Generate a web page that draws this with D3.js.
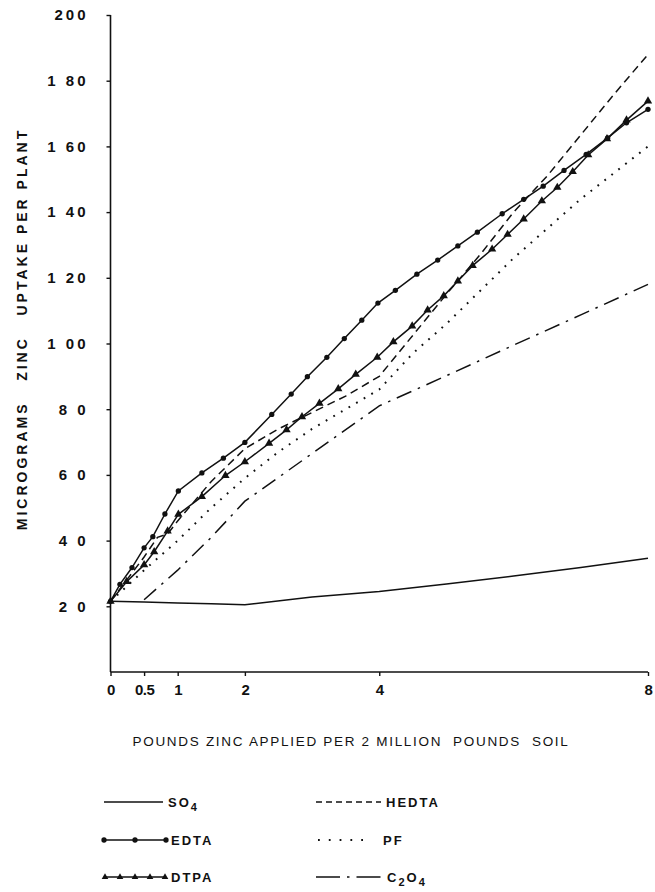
<!DOCTYPE html>
<html>
<head>
<meta charset="utf-8">
<script src="https://cdn.jsdelivr.net/npm/d3@7"></script>
<style>
  body { margin: 0; background: #fff; }
  svg { display: block; font-family: 'Liberation Sans', Arial, sans-serif; }
</style>
</head>
<body>
<svg id="chart" width="655" height="892"></svg>
<script>
// values: [pounds Zn applied, micrograms Zn per plant]
const so4 = [[0, 21.5], [0.5, 21.3], [1, 21], [1.5, 20.8], [2, 20.5], [3, 22.8], [4, 24.5], [5, 26.8], [6, 29.2], [7, 31.8], [8, 34.6]]
const edta = [[0, 21.5], [0.14, 26.7], [0.32, 31.8], [0.5, 37.8], [0.63, 41.2], [0.81, 48.1], [1.01, 55.1], [1.36, 60.6], [1.68, 65.1], [2, 69.9],
  [2.4, 78.4], [2.69, 84.6], [2.93, 89.9], [3.22, 95.8], [3.48, 101.5], [3.74, 107.1], [3.98, 112.3], [4.24, 116.2], [4.56, 121.1], [4.87, 125.4],
  [5.17, 129.7], [5.46, 133.9], [5.83, 139.5], [6.15, 143.9], [6.44, 147.9], [6.75, 152.7], [7.08, 157.6], [7.4, 162.6], [7.68, 167.2], [8, 171.3]]
const dtpa = [[0, 21.5], [0.24, 27.5], [0.5, 32.6], [0.65, 36.6], [0.85, 42.9], [1.01, 48], [1.36, 53.4], [1.71, 59.8], [2, 64], [2.36, 69.6],
  [2.62, 73.7], [2.85, 77.7], [3.11, 81.8], [3.39, 86.2], [3.65, 90.6], [3.97, 95.8], [4.21, 100.5], [4.49, 105.3], [4.72, 110.2], [4.96, 114.5],
  [5.17, 119], [5.39, 123.7], [5.68, 128.7], [5.91, 133.2], [6.15, 137.9], [6.42, 143.4], [6.65, 147.5], [6.88, 152.3], [7.11, 157.4], [7.39, 162.3],
  [7.68, 168], [8, 173.8]]
const hedta = [[0, 21.5], [0.5, 35], [0.7, 41], [0.85, 42], [1, 46], [1.5, 58], [2, 68], [2.5, 74], [3, 79], [3.5, 84], [4, 90], [4.4, 100],
  [5, 115], [5.5, 127], [6, 140], [6.5, 151], [7, 163.5], [7.5, 176], [8, 188]]
const pf = [[0, 21.5], [0.5, 31], [1, 40], [1.5, 50], [2, 59], [2.5, 67], [3, 74], [3.5, 80], [4, 86], [4.5, 97], [5, 106], [5.5, 116],
  [6, 126], [6.5, 135], [7, 144], [7.5, 152], [8, 160]]
const c2o4 = [[0.5, 22], [1, 31], [1.5, 41], [2, 52], [3, 66.5], [4, 81], [5, 90.2], [6, 99.5], [7, 108.7], [8, 118]]

const xTicks = [0, 0.5, 1, 2, 4, 8]
const xTickLabels = ['0', '0.5', '1', '2', '4', '8']
const yTicks = [20, 40, 60, 80, 100, 120, 140, 160, 180, 200]
const yTickLabels = ['2 0', '4 0', '6 0', '8 0', '1 00', '1 20', '1 40', '1 60', '1 80', '200']

const svg = d3.select('#chart')

const x = d3.scaleLinear().domain([0, 8]).range([110.5, 648])
const y = d3.scaleLinear().domain([0, 200]).range([672, 15])

// axes
const xAxis = d3.axisBottom(x).tickValues(xTicks).tickSize(4).tickPadding(8)
  .tickFormat((d, i) => xTickLabels[i])
const yAxis = d3.axisLeft(y).tickValues(yTicks).tickSize(4).tickPadding(18)
  .tickFormat((d, i) => yTickLabels[i])

const gx = svg.append('g').attr('transform', `translate(0, ${y(0)})`).call(xAxis)
gx.select('.domain').attr('d', `M${x(0)},0H${x(8)}`)
const gy = svg.append('g').attr('transform', `translate(${x(0)}, 0)`).call(yAxis)
gy.select('.domain').attr('d', `M0,${y(0)}V${y(200)}`)

svg.selectAll('.domain').attr('stroke', '#111').attr('stroke-width', 1.6)
svg.selectAll('.tick line').attr('stroke', '#111').attr('stroke-width', 1.4)
svg.selectAll('.tick text')
  .attr('fill', '#111')
  .style('font-size', '15px')
  .style('font-weight', 'bold')
gy.selectAll('.tick text').style('letter-spacing', '3px')
gx.selectAll('.tick text').style('letter-spacing', '-0.5px')

// axis titles
svg.append('text')
  .attr('transform', 'translate(27, 329) rotate(-90)')
  .attr('text-anchor', 'middle')
  .style('font-size', '14px')
  .style('font-weight', 'bold')
  .style('letter-spacing', '3px')
  .attr('fill', '#111')
  .attr('xml:space', 'preserve')
  .text('MICROGRAMS   ZINC   UPTAKE PER PLANT')

svg.append('text')
  .attr('x', 351)
  .attr('y', 746)
  .attr('text-anchor', 'middle')
  .style('font-size', '13.5px')
  .style('letter-spacing', '1.7px')
  .attr('fill', '#111')
  .attr('xml:space', 'preserve')
  .text('POUNDS ZINC APPLIED PER 2 MILLION  POUNDS  SOIL')

const lineGen = d3.line()
  .x(d => x(d[0]))
  .y(d => y(d[1]))

const series = [
  { key: 'so4', data: so4, dash: null },
  { key: 'edta', data: edta, dash: null },
  { key: 'dtpa', data: dtpa, dash: null },
  { key: 'hedta', data: hedta, dash: '8,5' },
  { key: 'pf', data: pf, dash: '1.8,7' },
  { key: 'c2o4', data: c2o4, dash: '16,7,2.5,7' }
]

series.forEach(s => {
  svg.append('path')
    .attr('class', s.key)
    .attr('d', lineGen(s.data))
    .attr('fill', 'none')
    .attr('stroke', '#111')
    .attr('stroke-width', s.key === 'pf' ? 2 : 1.5)
    .attr('stroke-dasharray', s.dash)
})

const circleSym = d3.symbol().type(d3.symbolCircle).size(22)
const triSym = d3.symbol().type(d3.symbolTriangle).size(30)

svg.selectAll('.edta-pt')
  .data(edta)
  .enter().append('path')
  .attr('class', 'edta-pt')
  .attr('d', circleSym)
  .attr('transform', d => `translate(${x(d[0])}, ${y(d[1])})`)
  .attr('fill', '#111')

svg.selectAll('.dtpa-pt')
  .data(dtpa)
  .enter().append('path')
  .attr('class', 'dtpa-pt')
  .attr('d', triSym)
  .attr('transform', d => `translate(${x(d[0])}, ${y(d[1])})`)
  .attr('fill', '#111')

// legend
const legend = svg.append('g').attr('fill', '#111')

const legendText = (lx, ly, main, sub) => {
  const t = legend.append('text')
    .attr('x', lx)
    .attr('y', ly + 5)
    .style('font-size', '13px')
    .style('font-weight', 'bold')
    .style('letter-spacing', '2px')
  main.forEach((m, i) => {
    t.append('tspan').attr('dy', i === 0 ? 0 : -4).text(m)
    if (sub[i]) t.append('tspan').attr('dy', 4).style('font-size', '11px').text(sub[i])
  })
}

const legLine = (x1, x2, ly, dash, w) => legend.append('line')
  .attr('x1', x1).attr('x2', x2).attr('y1', ly).attr('y2', ly)
  .attr('stroke', '#111').attr('stroke-width', w || 1.4)
  .attr('stroke-dasharray', dash)

legLine(104, 163, 802)
legendText(168, 802, ['SO'], ['4'])

legLine(104, 166, 840)
;[104, 135, 166].forEach(px => legend.append('path').attr('d', circleSym).attr('transform', `translate(${px}, 840)`))
legendText(171, 840, ['EDTA'], [])

legLine(104, 166, 877)
;[105, 120, 135, 150, 165].forEach(px => legend.append('path').attr('d', triSym).attr('transform', `translate(${px}, 877) scale(0.8)`))
legendText(171, 877, ['DTPA'], [])

legLine(316, 381, 802, '6,4')
legendText(386, 802, ['HEDTA'], [])

legLine(318, 372, 840, '1.8,9', 2)
legendText(383, 840, ['PF'], [])

legLine(316, 382, 877, '24,7,2.5,7')
legendText(387, 877, ['C', 'O'], ['2', '4'])
</script>
</body>
</html>
